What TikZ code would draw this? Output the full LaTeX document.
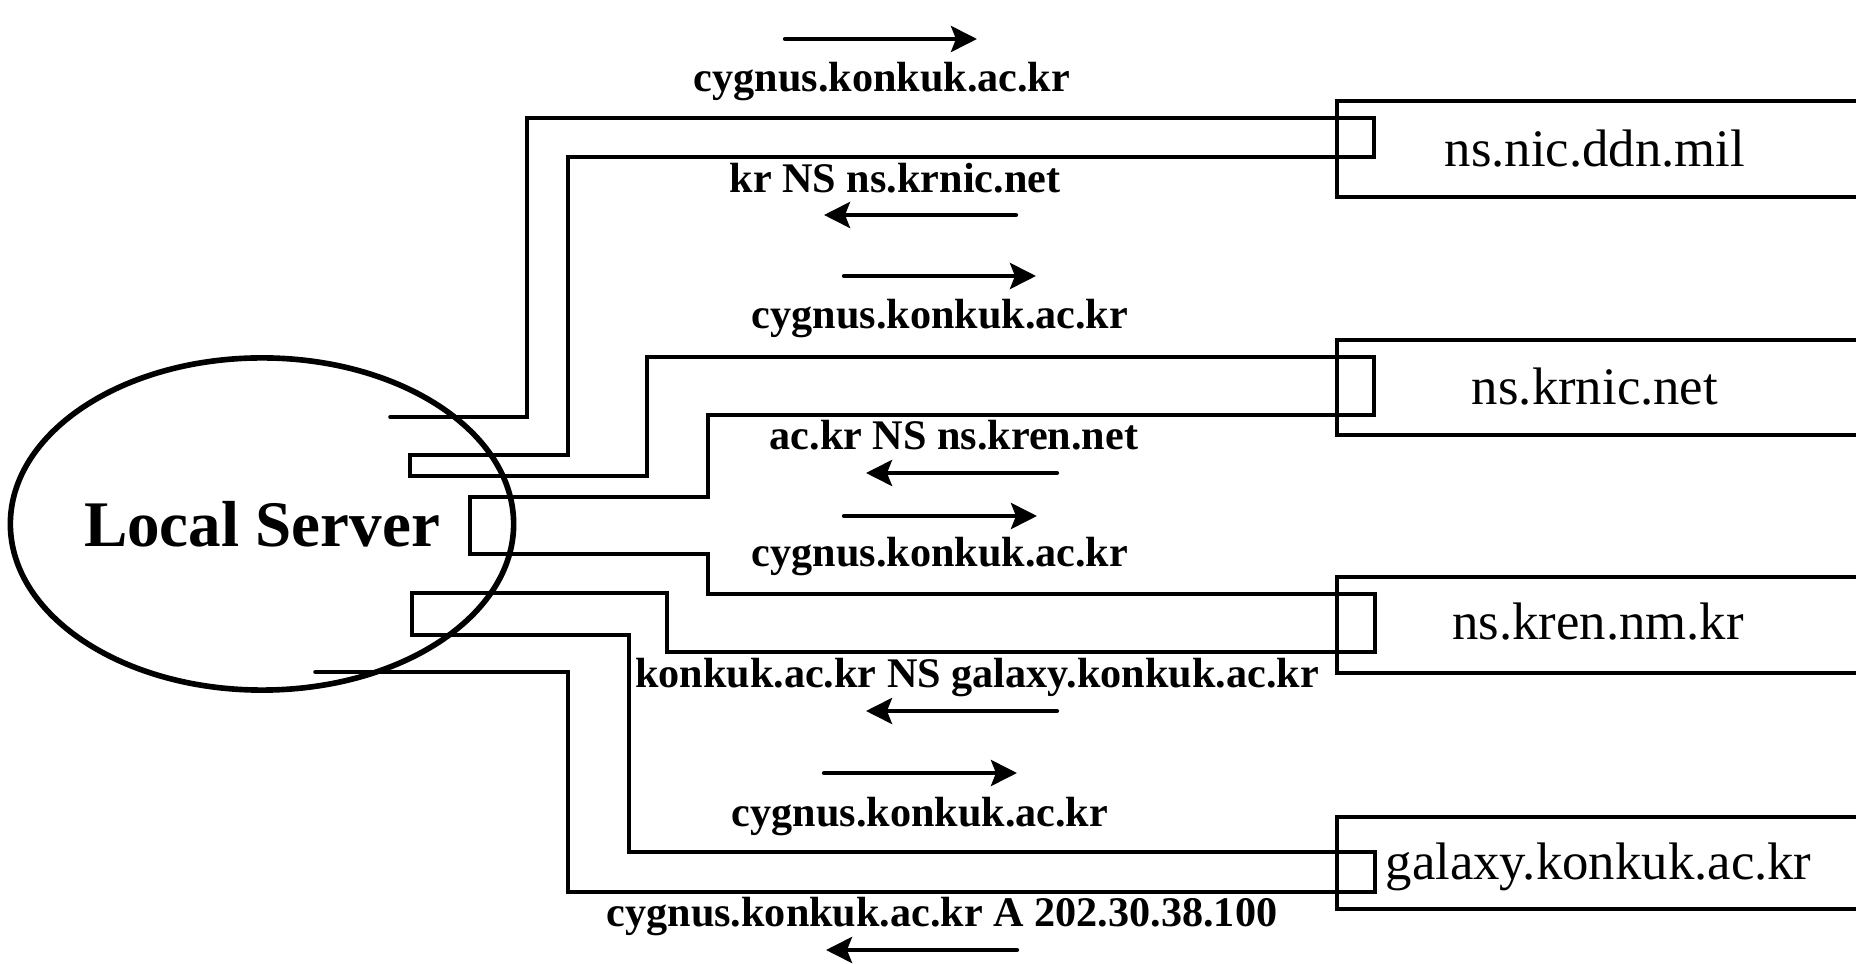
\documentclass[tikz,border=0pt]{standalone}
\usepackage{fontspec}
\setmainfont{Liberation Serif}
\usetikzlibrary{arrows.meta,shapes.geometric}

\begin{document}
\begin{tikzpicture}[x=0.01cm,y=-0.01cm,line cap=round,line join=miter,
  wire/.style={line width=1pt},
  flow/.style={line width=1.2pt,-{Stealth[length=0.26cm,width=0.26cm,inset=0.05cm]}},
  msg/.style={font=\fontsize{12}{14}\selectfont\bfseries,inner sep=0pt},
  host/.style={font=\fontsize{15}{18}\selectfont,inner sep=0pt},
  srvbox/.style={draw,line width=1pt,anchor=north west,minimum width=6cm,inner sep=0pt}]
  \useasboundingbox (0,0) rectangle (1856,964);
  \clip (0,0) rectangle (1856,964);
  \node[draw,ellipse,line width=1.6pt,minimum width=4.96cm,minimum height=3.32cm,inner sep=0pt,
    font=\fontsize{18.5}{22}\selectfont\bfseries] (local) at (262,524) {Local Server};
  \node[srvbox,minimum height=0.96cm] (nic) at (1335,99) {};
  \node[srvbox,minimum height=0.95cm] (krnic) at (1335,338) {};
  \node[srvbox,minimum height=0.96cm] (kren) at (1335,575) {};
  \node[srvbox,minimum height=0.92cm] (galaxy) at (1335,815) {};
  \node[host,anchor=base] (nicname) at (1595,167) {ns.nic.ddn.mil};
  \node[host,anchor=base] (krnicname) at (1595,405) {ns.krnic.net};
  \node[host,anchor=base] (krenname) at (1598,640) {ns.kren.nm.kr};
  \node[host,anchor=base west] (galaxyname) at (1385,880) {galaxy.konkuk.ac.kr};
  \draw[wire] (390,417) -| (527,118) -- (1374,118) |- (568,157) |- (410,455) -- (410,476)
    -| (647,357) -- (1374,357) |- (708,415) |- (470,497) -- (470,554)
    -| (708,594) -- (1375,594) |- (667,652) |- (412,593) -- (412,635)
    -| (629,852) -- (1375,852) |- (568,892) |- (315,672);
  \draw[flow] (785,39) -- (977,39);
  \node[msg,anchor=base] (q1) at (882,92) {cygnus.konkuk.ac.kr};
  \node[msg,anchor=base] (r1) at (895,193) {kr NS ns.krnic.net};
  \draw[flow] (1016,215) -- (824,215);
  \draw[flow] (844,276) -- (1036,276);
  \node[msg,anchor=base] (q2) at (940,329) {cygnus.konkuk.ac.kr};
  \node[msg,anchor=base] (r2) at (954,450) {ac.kr NS ns.kren.net};
  \draw[flow] (1057,473) -- (866,473);
  \draw[flow] (844,516) -- (1037,516);
  \node[msg,anchor=base] (q3) at (940,567) {cygnus.konkuk.ac.kr};
  \node[msg,anchor=base] (r3) at (977,688) {konkuk.ac.kr NS galaxy.konkuk.ac.kr};
  \draw[flow] (1057,711) -- (866,711);
  \draw[flow] (824,773) -- (1017,773);
  \node[msg,anchor=base] (q4) at (920,827) {cygnus.konkuk.ac.kr};
  \node[msg,anchor=base] (r4) at (942,927) {cygnus.konkuk.ac.kr A 202.30.38.100};
  \draw[flow] (1017,950) -- (826,950);
\end{tikzpicture}
\end{document}
